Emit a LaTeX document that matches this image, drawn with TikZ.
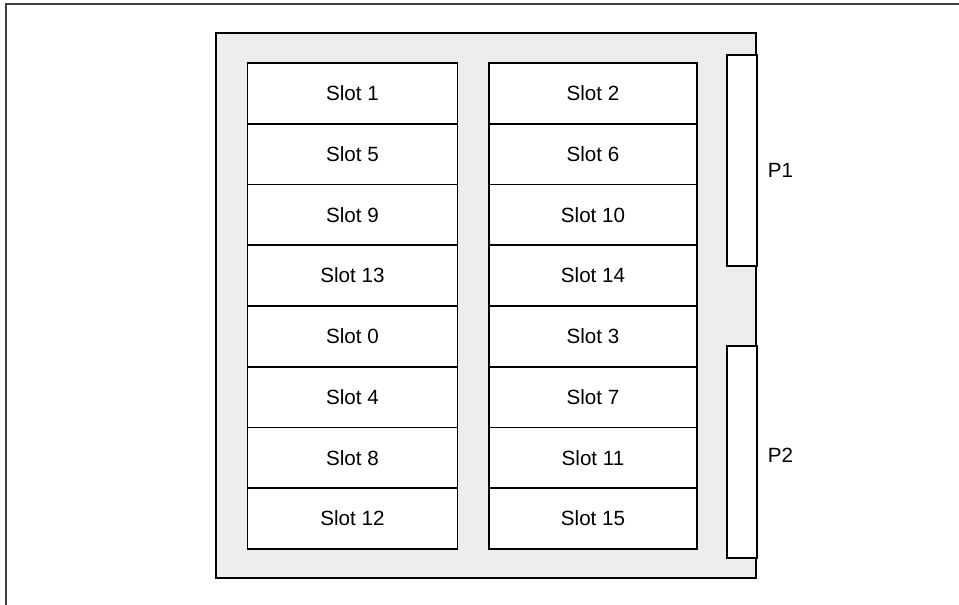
\documentclass[tikz,border=0pt]{standalone}
\usepackage{fontspec}
\setmainfont{Liberation Sans}
\usepackage{tikz}

\tikzset{
  slotbox/.style={draw, fill=white, minimum width=210pt, minimum height=60.75pt,
    inner sep=0pt, font=\fontsize{20.6}{24}\selectfont},
  connbox/.style={draw, fill=white, minimum width=30pt, inner sep=0pt},
  connlabel/.style={right, inner sep=0pt, font=\fontsize{20.6}{24}\selectfont},
}

\begin{document}
\begin{tikzpicture}[x=1pt, y=-1pt, line width=1.8pt]
\useasboundingbox (0,0) rectangle (959,605);

% Frame
\draw[line width=2pt, black!75] (6,605) -- (6,4) -- (959,4);

% Board
\draw[fill=black!7] (216,33) rectangle (756,578);

% Left column
\foreach \n [count=\i from 0] in {1,5,9,13,0,4,8,12} {
  \node[slotbox] (slot\n) at (352.5, {63+60.75*(\i+0.5)}) {Slot \n};
}

% Right column
\foreach \n [count=\i from 0] in {2,6,10,14,3,7,11,15} {
  \node[slotbox, minimum width=208pt] (slot\n) at (593, {63+60.75*(\i+0.5)}) {Slot \n};
}

% Connectors
\node[connbox, minimum height=211pt] (p1) at (742,160.5) {};
\node[connbox, minimum height=212pt] (p2) at (742,452) {};
\node[connlabel] at ([xshift=9pt, yshift=-10pt]p1.east) {P1};
\node[connlabel] at ([xshift=9pt, yshift=-3pt]p2.east) {P2};
\end{tikzpicture}
\end{document}
